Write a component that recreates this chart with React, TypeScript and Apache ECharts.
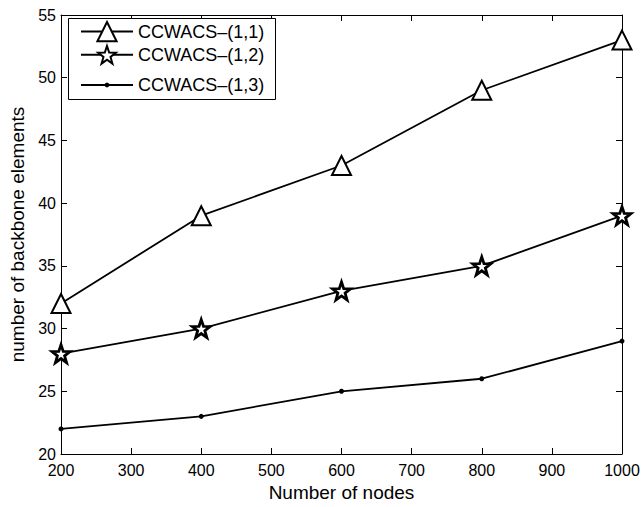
import React, { useEffect, useRef } from "react";
import * as echarts from "echarts";

const nodes = [200, 400, 600, 800, 1000];
const s11 = [32, 39, 43, 49, 53];
const s12 = [28, 30, 33, 35, 39];
const s13 = [22, 23, 25, 26, 29];
const names = ["CCWACS\u2013(1,1)", "CCWACS\u2013(1,2)", "CCWACS\u2013(1,3)"];

const STAR =
  "path://M50 0 L61.76 33.82 L97.55 34.55 L69.02 56.18 L79.39 90.45 L50 70 L20.61 90.45 L30.98 56.18 L2.45 34.55 L38.24 33.82 Z";

const FONT = "Liberation Sans";

export default function App() {
  const ref = useRef<HTMLDivElement>(null);
  useEffect(() => {
    const chart = echarts.init(ref.current!, null, { renderer: "svg" });
    const pair = (ys: number[]) => nodes.map((x, i) => [x, ys[i]]);
    const axisCommon = {
      axisLine: { show: true, lineStyle: { color: "#000", width: 1 } },
      axisTick: { show: true, inside: true, length: 6, lineStyle: { color: "#000" } },
      splitLine: { show: false },
    };
    const legendBase = {
      orient: "vertical",
      left: 80,
      padding: 0,
      itemWidth: 52,
      textStyle: { fontFamily: FONT, fontSize: 18, color: "#000" },
    };
    chart.setOption({
      animation: false,
      backgroundColor: "#fff",
      grid: { left: 61, right: 21, top: 15, bottom: 49, containLabel: false },
      graphic: [
        {
          type: "rect",
          left: 68,
          top: 18,
          shape: { width: 207, height: 81 },
          style: { fill: "#fff", stroke: "#000", lineWidth: 1 },
          z: 5,
        },
      ],
      legend: [
        { ...legendBase, top: 21, itemHeight: 24, data: [names[0]], z: 10 },
        { ...legendBase, top: 45, itemHeight: 22, data: [names[1]], z: 10 },
        { ...legendBase, top: 76, itemHeight: 6, data: [names[2]], z: 10 },
      ],
      xAxis: [
        {
          type: "value",
          min: 200,
          max: 1000,
          interval: 100,
          position: "bottom",
          name: "Number of nodes",
          nameLocation: "middle",
          nameGap: 29,
          nameTextStyle: { fontFamily: FONT, fontSize: 19, color: "#000" },
          axisLabel: {
            fontFamily: FONT,
            fontSize: 16,
            color: "#000",
            margin: 8,
            formatter: (v: number) => String(v),
          },
          ...axisCommon,
        },
        {
          type: "value",
          min: 200,
          max: 1000,
          interval: 100,
          position: "top",
          axisLabel: { show: false },
          ...axisCommon,
        },
      ],
      yAxis: [
        {
          type: "value",
          min: 20,
          max: 55,
          interval: 5,
          position: "left",
          name: "number of backbone elements",
          nameLocation: "middle",
          nameGap: 29,
          nameTextStyle: { fontFamily: FONT, fontSize: 19, color: "#000" },
          axisLabel: { fontFamily: FONT, fontSize: 16, color: "#000", margin: 5 },
          ...axisCommon,
        },
        {
          type: "value",
          min: 20,
          max: 55,
          interval: 5,
          position: "right",
          axisLabel: { show: false },
          ...axisCommon,
        },
      ],
      series: [
        {
          name: names[0],
          type: "line",
          data: pair(s11),
          symbol: "triangle",
          symbolSize: 19,
          lineStyle: { color: "#000", width: 1.8 },
          itemStyle: { color: "#fff", borderColor: "#000", borderWidth: 2 },
        },
        {
          name: names[1],
          type: "line",
          data: pair(s12),
          symbol: STAR,
          symbolSize: 18,
          lineStyle: { color: "#000", width: 1.8 },
          itemStyle: { color: "#fff", borderColor: "#000", borderWidth: 2.8 },
        },
        {
          name: names[2],
          type: "line",
          data: pair(s13),
          symbol: "circle",
          symbolSize: 5,
          lineStyle: { color: "#000", width: 1.8 },
          itemStyle: { color: "#000", borderColor: "#000", borderWidth: 0 },
        },
      ],
    });
    return () => chart.dispose();
  }, []);
  return <div ref={ref} style={{ width: 643, height: 507, position: "absolute", left: 0, top: 0 }} />;
}
